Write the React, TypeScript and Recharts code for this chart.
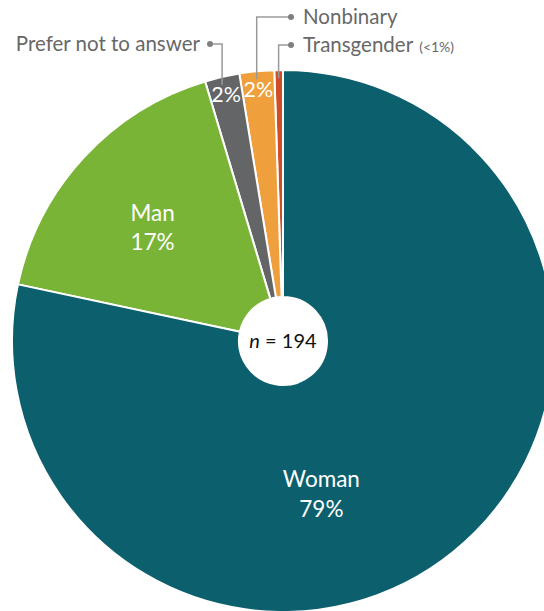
import { PieChart, Pie, Cell, Label } from 'recharts'

const groups = ['Transgender', 'Nonbinary', 'Prefer not to answer', 'Man', 'Woman']
const counts = [1, 4, 4, 33, 152]
const pctLabels = ['<1%', '2%', '2%', '17%', '79%']
const colors = ['#cf4e28', '#ef9f3c', '#646567', '#7ab437', '#0c5f6d']
const sampleSize = 194

const data = groups.map((name, i) => ({ name, value: counts[i], pct: pctLabels[i] }))

const RAD = Math.PI / 180
const FONT = 'Lato, "Noto Sans", sans-serif'

// where the inside labels sit: radius and angle shift from the slice middle
const inside: Record<number, { r: number; da: number; name: boolean }> = {
  1: { r: 253, da: 0, name: false },
  2: { r: 253, da: 0, name: false },
  3: { r: 172, da: 2, name: true },
  4: { r: 159, da: -25, name: true },
}
// callouts for the thin slices
const callouts: Record<number, { y: number; dotX: number; side: 'left' | 'right' }> = {
  0: { y: 45, dotX: 291, side: 'right' },
  1: { y: 17, dotX: 291, side: 'right' },
  2: { y: 44, dotX: 210, side: 'left' },
}

function renderLabel(p: any) {
  const { cx, cy, midAngle, outerRadius, index } = p
  const nodes: any[] = []
  const c = callouts[index]
  if (c) {
    const ex = cx + outerRadius * Math.cos(-midAngle * RAD)
    const ey = cy + (outerRadius - 8) * Math.sin(-midAngle * RAD)
    nodes.push(
      <polyline key="l" points={`${c.dotX},${c.y} ${ex},${c.y} ${ex},${ey}`} fill="none" stroke="#9a9a9a" strokeWidth={1.5} />,
      <circle key="d" cx={c.dotX} cy={c.y} r={3} fill="#808080" />,
    )
    if (c.side === 'right') {
      nodes.push(
        <text key="t" x={c.dotX + 12} y={c.y} dy="0.35em" fill="#686868" fontSize={20.5} fontFamily={FONT}>
          {groups[index]}
          {index === 0 && <tspan fontSize={14} dx={6}>({pctLabels[index]})</tspan>}
        </text>,
      )
    } else {
      nodes.push(
        <text key="t" x={c.dotX - 10} y={c.y} dy="0.35em" textAnchor="end" fill="#686868" fontSize={20.5} fontFamily={FONT}>
          {groups[index]}
        </text>,
      )
    }
  }
  const ins = inside[index]
  if (ins) {
    const a = -(midAngle + ins.da) * RAD
    const x = cx + ins.r * Math.cos(a)
    const y = cy + ins.r * Math.sin(a)
    if (ins.name) {
      nodes.push(
        <text key="i" x={x} y={y} textAnchor="middle" fill="#fff" fontSize={22.5} fontFamily={FONT}>
          <tspan x={x} dy="-0.35em">{groups[index]}</tspan>
          <tspan x={x} dy="1.3em">{pctLabels[index]}</tspan>
        </text>,
      )
    } else {
      nodes.push(
        <text key="i" x={x} y={y} dy="0.35em" textAnchor="middle" fill="#fff" fontSize={21.5} fontFamily={FONT}>
          {pctLabels[index]}
        </text>,
      )
    }
  }
  return <g>{nodes}</g>
}

export default function App() {
  return (
    <div style={{ position: 'absolute', left: 0, top: 0 }}>
      <PieChart width={544} height={611} margin={{ top: 0, right: 0, bottom: 0, left: 0 }}>
        <Pie
          data={data}
          dataKey="value"
          nameKey="name"
          cx={283}
          cy={341}
          innerRadius={44}
          outerRadius={271}
          startAngle={90}
          endAngle={450}
          stroke="#fff"
          strokeWidth={2}
          label={renderLabel}
          labelLine={false}
          isAnimationActive={false}
        >
          {data.map((d, i) => <Cell key={d.name} fill={colors[i]} />)}
          <Label
            position="center"
            content={() => (
              <text x={283} y={341} dy="0.35em" textAnchor="middle" fill="#111" fontSize={20} fontFamily={FONT}>
                <tspan fontStyle="italic">n</tspan> = {sampleSize}
              </text>
            )}
          />
        </Pie>
      </PieChart>
    </div>
  )
}
